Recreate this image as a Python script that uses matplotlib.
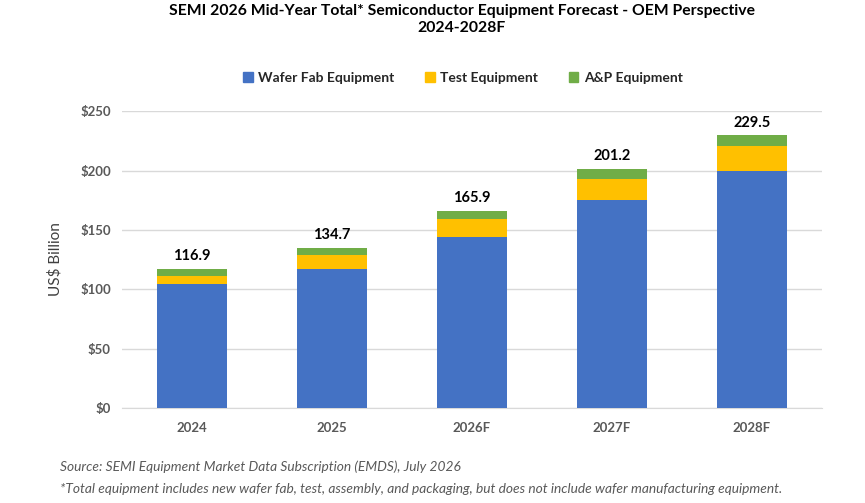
import numpy as np
import matplotlib.pyplot as plt
from matplotlib.patches import Patch

plt.rcParams['font.family'] = ['Lato', 'DejaVu Sans']

# 数据 (US$ Billion)
years = ["2024", "2025", "2026F", "2027F", "2028F"]
wfe = [104.0, 116.7, 143.7, 175.0, 200.0]
test = [7.5, 11.9, 15.7, 18.0, 21.0]
ap = [5.4, 6.1, 6.5, 8.2, 8.5]
totals = [116.9, 134.7, 165.9, 201.2, 229.5]
yticks = [0, 50, 100, 150, 200, 250]

c_blue = "#4472C4"
c_yellow = "#FFC000"
c_green = "#70AD47"

fig = plt.figure(figsize=(8.65, 5.03), dpi=100)
ax = fig.add_axes([0.141, 0.189, 0.809, 0.590])

x = np.arange(len(years))
bw = 0.5
ax.bar(x, wfe, bw, color=c_blue, zorder=3)
ax.bar(x, test, bw, bottom=wfe, color=c_yellow, zorder=3)
bottom2 = np.array(wfe) + np.array(test)
ax.bar(x, ap, bw, bottom=bottom2, color=c_green, zorder=3)

# 总数标签
for xi, t in zip(x, totals):
    ax.text(xi, t + 5, f"{t:.1f}", ha="center", va="bottom",
            fontsize=10.5, fontweight="bold", color="black")

ax.set_xlim(-0.5, len(years) - 0.5)
ax.set_ylim(0, 250)
ax.set_yticks(yticks)
ax.set_yticklabels([f"${v}" for v in yticks])
ax.set_xticks(x)
ax.set_xticklabels(years)
ax.grid(axis="y", color="#D9D9D9", linewidth=1, zorder=0)
for s in ["top", "right", "left"]:
    ax.spines[s].set_visible(False)
ax.spines["bottom"].set_color("#D9D9D9")
ax.tick_params(axis="both", length=0, labelsize=9.5, labelcolor="#595959")
ax.tick_params(axis="x", pad=10)
ax.tick_params(axis="y", pad=8)
for lab in ax.get_xticklabels() + ax.get_yticklabels():
    lab.set_fontweight("bold")
ax.set_ylabel("US$ Billion", fontsize=11, color="#404040", labelpad=13)

fig.text(0.534, 0.993, "SEMI 2026 Mid-Year Total* Semiconductor Equipment Forecast - OEM Perspective\n2024-2028F",
         ha="center", va="top", fontsize=11.3, fontweight="bold", linespacing=1.3)

handles = [Patch(color=c_blue, label="Wafer Fab Equipment"),
           Patch(color=c_yellow, label="Test Equipment"),
           Patch(color=c_green, label="A&P Equipment")]
leg = fig.legend(handles=handles, loc="center", bbox_to_anchor=(0.535, 0.845), ncol=3,
                 frameon=False, fontsize=10, handlelength=0.7, handleheight=0.7,
                 handletextpad=0.4, columnspacing=2.2)
for t in leg.get_texts():
    t.set_fontweight("bold")
    t.set_color("#262626")

fig.text(0.069, 0.072, "Source: SEMI Equipment Market Data Subscription (EMDS), July 2026",
         fontsize=9.9, style="italic", color="#595959", va="center")
fig.text(0.069, 0.028, "*Total equipment includes new wafer fab, test, assembly, and packaging, but does not include wafer manufacturing equipment.",
         fontsize=9.9, style="italic", color="#595959", va="center")

fig.savefig("out.png", dpi=100)
